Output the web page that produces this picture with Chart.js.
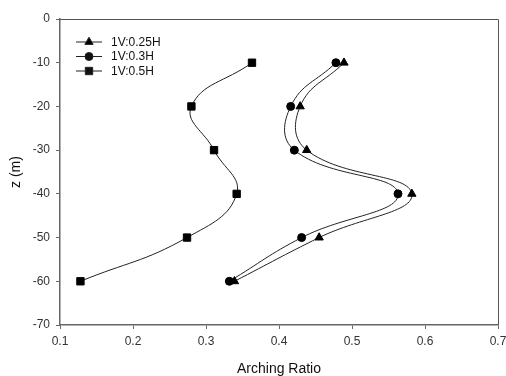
<!DOCTYPE html>
<html>
<head>
<meta charset="utf-8">
<script src="https://cdn.jsdelivr.net/npm/chart.js@4/dist/chart.umd.min.js"></script>
<style>
  html, body { margin: 0; padding: 0; background: #fff; }
  #wrap { width: 506px; height: 376px; }
</style>
</head>
<body>
<div id="wrap"><canvas id="myChart"></canvas></div>
<script>
const depths = [-10, -20, -30, -40, -50, -60];
const ratio025 = [0.489, 0.429, 0.438, 0.582, 0.455, 0.339];
const ratio03 = [0.478, 0.416, 0.421, 0.563, 0.431, 0.332];
const ratio05 = [0.363, 0.280, 0.311, 0.342, 0.274, 0.128];
const xTicks = [0.1, 0.2, 0.3, 0.4, 0.5, 0.6, 0.7];
const yTicks = [0, -10, -20, -30, -40, -50, -60, -70];

const pts = (xs) => xs.map((x, i) => ({ x: x, y: depths[i] }));

const series = [
  { label: '1V:0.25H', values: ratio025, style: 'triangle', r: 4.8 },
  { label: '1V:0.3H', values: ratio03, style: 'circle', r: 4 },
  { label: '1V:0.5H', values: ratio05, style: 'rect', r: 5.2 },
];

// legend drawn inside the plot, line + marker like the original
const insideLegend = {
  id: 'insideLegend',
  afterDraw(chart) {
    const ctx = chart.ctx;
    const ca = chart.chartArea;
    ctx.save();
    // frame (top + right)
    ctx.strokeStyle = '#555';
    ctx.lineWidth = 1;
    ctx.beginPath();
    ctx.moveTo(ca.left, ca.top + 0.5);
    ctx.lineTo(ca.right + 0.5, ca.top + 0.5);
    ctx.lineTo(ca.right + 0.5, ca.bottom);
    ctx.stroke();

    chart.data.datasets.forEach((ds, i) => {
      const y = 42 + i * 14.5;
      ctx.strokeStyle = '#222';
      ctx.lineWidth = 1;
      ctx.beginPath();
      ctx.moveTo(76, y);
      ctx.lineTo(102, y);
      ctx.stroke();
      Chart.helpers.drawPoint(ctx, {
        pointStyle: ds.pointStyle, radius: ds.pointRadius, borderWidth: 1, rotation: 0
      }, 89, y);
      ctx.fillStyle = '#111';
      ctx.font = '12px "Liberation Sans", Arial, sans-serif';
      ctx.textBaseline = 'middle';
      ctx.fillText(ds.label, 111, y + 0.5);
    });
    ctx.restore();
  }
};

const data = {
  datasets: series.map(s => ({
    label: s.label,
    data: pts(s.values),
    showLine: true,
    tension: 0.45,
    borderColor: '#222',
    borderWidth: 1,
    backgroundColor: '#000',
    pointBackgroundColor: '#000',
    pointBorderColor: '#000',
    pointStyle: s.style,
    pointRadius: s.r,
    pointBorderWidth: 1,
  })),
};

const tickFont = { family: '"Liberation Sans", Arial, sans-serif', size: 12 };

const config = {
  type: 'scatter',
  data: data,
  plugins: [insideLegend],
  options: {
    responsive: true,
    maintainAspectRatio: false,
    animation: false,
    layout: { padding: { top: 19, right: 8, left: 0, bottom: 0 } },
    plugins: {
      legend: { display: false },
      tooltip: { enabled: false },
    },
    scales: {
      x: {
        type: 'linear',
        min: 0.1,
        max: 0.7,
        afterBuildTicks: (axis) => { axis.ticks = xTicks.map(v => ({ value: v })); },
        afterFit: (axis) => { axis.height = 51; axis.paddingRight = 0; axis.paddingLeft = 0; },
        ticks: {
          color: '#333',
          font: tickFont,
          padding: 5,
          maxRotation: 0,
          callback: (v) => v.toFixed(1),
        },
        grid: { drawOnChartArea: false, tickLength: 4, color: '#666' },
        border: { color: '#666', width: 1.5 },
        title: {
          display: true,
          text: 'Arching Ratio',
          color: '#111',
          font: { family: '"Liberation Sans", Arial, sans-serif', size: 14, lineHeight: 1 },
          padding: { top: 0, bottom: 0 },
        },
      },
      y: {
        type: 'linear',
        min: -70,
        max: 0,
        afterBuildTicks: (axis) => { axis.ticks = yTicks.map(v => ({ value: v })); },
        afterFit: (axis) => { axis.width = 60; axis.paddingTop = 0; axis.paddingBottom = 0; },
        ticks: {
          color: '#333',
          font: tickFont,
          padding: 6,
          callback: (v) => String(v),
        },
        grid: { drawOnChartArea: false, tickLength: 4, color: '#666' },
        border: { color: '#666', width: 1.5 },
        title: {
          display: true,
          text: 'z (m)',
          color: '#111',
          font: { family: '"Liberation Sans", Arial, sans-serif', size: 14, lineHeight: 1 },
          padding: { top: 9, bottom: 0 },
        },
      },
    },
  },
};

const myChart = new Chart(document.getElementById('myChart'), config);
</script>
</body>
</html>
